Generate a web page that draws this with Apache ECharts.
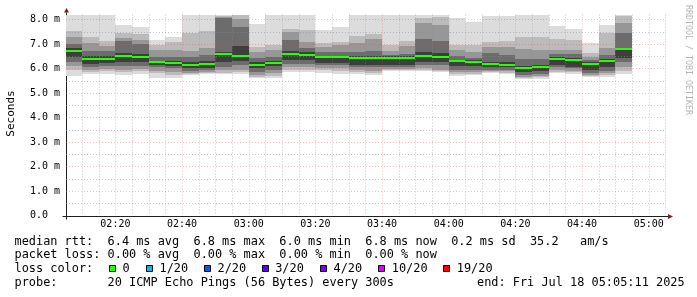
<!DOCTYPE html>
<html><head><meta charset="utf-8">
<script src="https://cdn.jsdelivr.net/npm/echarts@6/dist/echarts.min.js"></script>
<style>html,body{margin:0;padding:0;background:#fff}#c{width:697px;height:297px}</style>
</head><body><div id="c"></div>
<script>
(function () {
// ---- data (5-minute columns, start times) ----
const times = ['02:05','02:10','02:15','02:20','02:25','02:30','02:35','02:40','02:45','02:50','02:55',
  '03:00','03:05','03:10','03:15','03:20','03:25','03:30','03:35','03:40','03:45','03:50','03:55',
  '04:00','04:05','04:10','04:15','04:20','04:25','04:30','04:35','04:40','04:45','04:50'];
// median rtt (ms)
const median = [6.72,6.39,6.39,6.51,6.46,6.25,6.23,6.15,6.18,6.58,6.50,6.15,6.23,6.59,6.56,6.45,6.45,6.44,6.44,6.44,
  6.44,6.49,6.47,6.29,6.26,6.19,6.16,6.01,6.06,6.38,6.33,6.19,6.29,6.79];
// smoke bands (ms): outermost (pingMin..pingMax) to innermost (lo5..hi5)
const pingMin = [5.70,5.77,5.78,5.75,5.78,5.61,5.60,5.72,5.76,5.76,5.77,5.62,5.62,5.86,5.86,5.82,5.78,5.77,5.73,5.88,
  5.88,5.90,5.85,5.71,5.73,5.80,5.78,5.55,5.58,5.80,5.77,5.63,5.66,5.77];
const lo2 = [5.94,5.85,5.88,5.85,5.88,5.80,5.75,5.77,5.80,5.82,5.85,5.66,5.70,5.95,5.95,5.92,5.90,5.85,5.82,5.93,
  5.93,5.95,5.90,5.78,5.78,5.84,5.83,5.60,5.65,5.86,5.84,5.68,5.75,5.90];
const lo3 = [6.10,5.95,5.98,5.95,5.98,5.90,5.85,5.82,5.85,5.92,5.95,5.75,5.82,6.05,6.05,6.00,6.00,5.92,5.90,5.97,
  5.97,6.01,5.95,5.85,5.84,5.88,5.88,5.66,5.70,5.93,5.90,5.73,5.82,6.07];
const lo4 = [6.25,6.05,6.09,6.10,6.10,6.05,6.00,5.90,5.92,6.05,6.13,5.86,5.95,6.19,6.20,6.12,6.12,6.05,6.05,6.05,
  6.05,6.15,6.14,5.94,5.94,5.93,5.93,5.73,5.77,6.05,6.00,5.82,5.90,6.25];
const lo5 = [6.45,6.20,6.22,6.25,6.25,6.12,6.10,6.02,6.02,6.25,6.30,6.00,6.10,6.35,6.35,6.22,6.22,6.12,6.12,6.15,
  6.15,6.25,6.25,6.10,6.10,6.05,6.05,5.85,5.90,6.14,6.07,5.95,6.05,6.41];
const hi5 = [6.85,6.50,6.52,6.62,6.58,6.32,6.32,6.25,6.30,6.69,6.90,6.28,6.32,6.72,6.68,6.52,6.52,6.52,6.52,6.50,
  6.50,6.65,6.62,6.35,6.33,6.27,6.25,6.10,6.15,6.45,6.41,6.25,6.38,6.85];
const hi4 = [7.00,6.70,6.70,7.10,7.00,6.45,6.45,6.45,6.55,8.05,7.70,6.42,6.45,7.14,6.85,6.65,6.68,6.69,6.70,6.56,
  6.60,7.20,7.10,6.49,6.42,6.61,6.54,6.40,6.40,6.60,6.58,6.34,6.55,7.43];
const hi3 = [7.29,7.04,6.90,7.26,7.14,6.75,6.75,6.70,6.85,8.10,8.00,6.68,6.75,7.48,7.09,6.88,6.95,7.03,7.21,6.72,
  6.90,7.85,7.77,6.76,6.69,6.88,6.88,6.78,6.75,6.75,6.75,6.48,6.82,7.84];
const hi2 = [7.53,7.29,7.10,7.45,7.42,6.95,7.08,7.43,7.52,8.15,8.19,6.88,6.95,7.62,7.55,7.02,7.09,7.31,7.40,6.96,
  7.11,8.05,8.10,6.95,6.95,7.08,7.10,7.28,7.28,7.21,7.17,6.61,7.43,8.15];
const pingMax = [8.2,8.2,8.2,7.76,7.67,7.14,7.30,8.2,8.2,8.2,8.2,7.81,8.2,8.2,8.2,7.56,7.70,8.2,8.2,8.2,
  8.2,8.2,8.2,8.05,7.90,8.12,8.13,8.2,8.2,7.72,7.62,7.04,7.77,8.2];
// axis ticks
const xTickLabels = ['02:20','02:40','03:00','03:20','03:40','04:00','04:20','04:40','05:00'];
const yTicks = [0,1,2,3,4,5,6,7,8];
// legend
const lossLabels = ['0','1/20','2/20','3/20','4/20','10/20','19/20'];
const lossColors = ['#26ff00','#00b8ff','#0059ff','#5e00ff','#7e00ff','#dd00ff','#ff0000'];
const legendLine1 = 'median rtt:  6.4 ms avg  6.8 ms max  6.0 ms min  6.8 ms now  0.2 ms sd  35.2   am/s';
const legendLine2 = 'packet loss: 0.00 % avg  0.00 % max  0.00 % min  0.00 % now';
const legendLine3 = 'loss color:';
const legendLine4 = 'probe:       20 ICMP Echo Pings (56 Bytes) every 300s';
const endText = 'end: Fri Jul 18 05:05:11 2025';

// ---- helpers ----
const toMin = s => { const p = s.split(':').map(Number); return p[0]*60 + p[1]; };
const STEP = 5;
const START = toMin('02:05') + 11/60;
const END = START + 180;
const Y_MAX = 8.2;
const loBands = [pingMin, lo2, lo3, lo4, lo5];
const hiBands = [pingMax, hi2, hi3, hi4, hi5];
const bandColors = ['#dcdcdc','#bbbbbb','#979797','#6c6c6c','#3e3e3e'];
const xTickValues = xTickLabels.map(toMin);

const gridItems = [];
for (let t = toMin('02:10'); t < END; t += STEP) gridItems.push([t, xTickValues.includes(t) ? 1 : 0]);
for (let v = 0.5; v <= 8.0001; v += 0.5) gridItems.push([v, Number.isInteger(v) ? 3 : 2]);

const MONO = '"DejaVu Sans Mono", monospace';
const chart = echarts.init(document.getElementById('c'), null, {renderer: 'canvas'});

function rectPx(api, cs, t0, t1, lo, hi) {
  const a = api.coord([t0, hi]), b = api.coord([t1, lo]);
  const x0 = Math.round(a[0]), x1 = Math.round(b[0]);
  const y0 = Math.round(a[1]), y1 = Math.round(b[1]);
  return echarts.graphic.clipRectByRect({x: x0, y: y0, width: x1 - x0, height: y1 - y0}, cs);
}

const option = {
  animation: false,
  backgroundColor: '#ffffff',
  grid: {left: 66, top: 14.5, width: 600, height: 201},
  xAxis: {
    type: 'value', min: START, max: END,
    axisLine: {show: false}, axisTick: {show: false}, splitLine: {show: false},
    axisLabel: {
      customValues: xTickValues, margin: 4, fontFamily: MONO, fontSize: 10, lineHeight: 10, color: '#000',
      formatter: v => { const i = xTickValues.indexOf(Math.round(v)); return i >= 0 ? xTickLabels[i] : ''; }
    }
  },
  yAxis: {
    type: 'value', min: 0, max: Y_MAX, interval: 1,
    axisLine: {show: false}, axisTick: {show: false}, splitLine: {show: false},
    axisLabel: {
      margin: 6, fontFamily: MONO, fontSize: 10, color: '#000', showMaxLabel: false,
      formatter: v => {
        if (!yTicks.includes(Math.round(v * 1000) / 1000)) return '';
        return v === 0 ? '0.0  ' : v.toFixed(1) + ' m';
      }
    }
  },
  series: [
    {
      type: 'custom', z: 1, silent: true,
      data: times.map((t, i) => [toMin(t), median[i]]),
      renderItem: (params, api) => {
        const i = params.dataIndex;
        const t0 = toMin(times[i]), t1 = t0 + STEP;
        const children = [];
        for (let b = 0; b < loBands.length; b++) {
          const r = rectPx(api, params.coordSys, t0, t1, loBands[b][i], hiBands[b][i]);
          if (r) children.push({type: 'rect', shape: r, style: {fill: bandColors[b]}});
        }
        return {type: 'group', children};
      }
    },
    {
      type: 'custom', z: 2, silent: true,
      data: gridItems,
      renderItem: (params, api) => {
        const v = api.value(0), k = api.value(1), cs = params.coordSys;
        let shape;
        if (k < 2) {
          const x = Math.round(api.coord([v, 0])[0]) + 0.5;
          shape = {x1: x, y1: cs.y, x2: x, y2: cs.y + cs.height};
        } else {
          const y = Math.round(api.coord([START, v])[1]) + 0.5;
          shape = {x1: cs.x, y1: y, x2: cs.x + cs.width, y2: y};
        }
        const major = (k === 1 || k === 3);
        return {type: 'line', shape, style: {
          stroke: major ? 'rgba(222,79,79,0.36)' : 'rgba(143,143,143,0.5)', lineWidth: 1, lineDash: [1, 2]}};
      }
    },
    {
      type: 'custom', z: 3, silent: true,
      data: times.map((t, i) => [toMin(t), median[i]]),
      renderItem: (params, api) => {
        const i = params.dataIndex;
        const t0 = toMin(times[i]), t1 = t0 + STEP;
        const a = api.coord([t0, median[i]]), b = api.coord([t1, median[i]]);
        const x0 = Math.round(a[0]), x1 = Math.round(b[0]);
        const yc = Math.round(a[1]);
        const r = echarts.graphic.clipRectByRect({x: x0, y: yc - 1, width: x1 - x0, height: 2}, params.coordSys);
        return r ? {type: 'rect', shape: r, style: {fill: lossColors[0]}} : null;
      }
    }
  ]
};
chart.setOption(option);

// ---- axes, arrows and legend texts ----
const pLB = chart.convertToPixel({gridIndex: 0}, [START, 0]);
const pRT = chart.convertToPixel({gridIndex: 0}, [END, Y_MAX]);
const ax = Math.round(pLB[0]) + 0.5;
const ay = Math.round(pLB[1]) + 0.5;
const plotRight = pRT[0], plotTop = pRT[1];
const AXIS = '#1f1f1f', ARROW = '#801f1f';
const g = [];
g.push({type: 'line', shape: {x1: ax - 4, y1: ay, x2: plotRight + 2, y2: ay}, style: {stroke: AXIS, lineWidth: 1}});
g.push({type: 'line', shape: {x1: ax, y1: ay + 3, x2: ax, y2: plotTop - 2}, style: {stroke: AXIS, lineWidth: 1}});
g.push({type: 'polygon', shape: {points: [[plotRight + 2, ay - 2.5], [plotRight + 7, ay], [plotRight + 2, ay + 2.5]]}, style: {fill: ARROW}});
g.push({type: 'polygon', shape: {points: [[ax - 2.5, plotTop - 2], [ax, plotTop - 6.5], [ax + 2.5, plotTop - 2]]}, style: {fill: ARROW}});
g.push({type: 'text', x: 11, y: 113.5, rotation: Math.PI / 2,
  style: {text: 'Seconds', font: '11px ' + MONO, fill: '#000', align: 'center', verticalAlign: 'middle'}});
g.push({type: 'text', x: 688, y: 5, rotation: -Math.PI / 2,
  style: {text: 'RRDTOOL / TOBI OETIKER', font: '8.3px ' + MONO, fill: '#b4b4b4', align: 'left', verticalAlign: 'middle'}});
const LF = '11.9px ' + MONO;
const LX = 14.5;
[[legendLine1, 241.5], [legendLine2, 255.2], [legendLine3, 269], [legendLine4, 282.7]].forEach(([t, y]) => {
  g.push({type: 'text', x: LX, y: y, style: {text: t, font: LF, fill: '#000', align: 'left', verticalAlign: 'middle'}});
});
g.push({type: 'text', x: 477, y: 282.7, style: {text: endText, font: LF, fill: '#000', align: 'left', verticalAlign: 'middle'}});
const boxX = [109, 146, 204, 261.7, 320, 378.3, 443.3];
lossLabels.forEach((lab, i) => {
  g.push({type: 'rect', shape: {x: Math.round(boxX[i]) + 0.5, y: 265.5, width: 6, height: 6},
    style: {fill: lossColors[i], stroke: '#000', lineWidth: 1}});
  g.push({type: 'text', x: boxX[i] + 13.5, y: 269,
    style: {text: lab, font: LF, fill: '#000', align: 'left', verticalAlign: 'middle'}});
});
chart.setOption({graphic: {elements: g}});
})();
</script>
</body></html>
